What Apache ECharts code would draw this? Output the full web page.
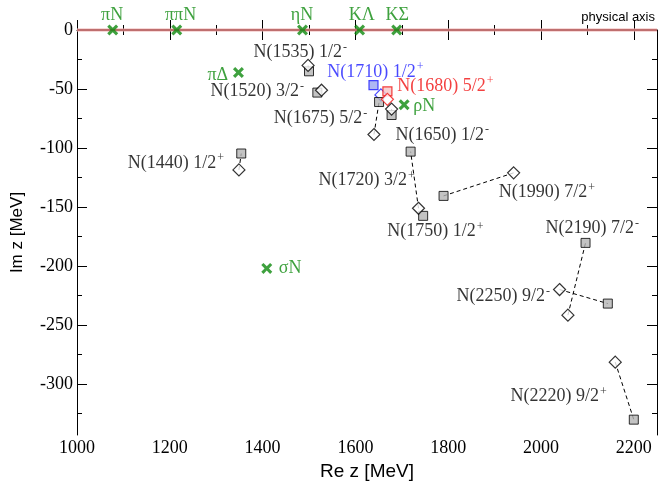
<!DOCTYPE html>
<html><head><meta charset="utf-8">
<script src="https://cdn.jsdelivr.net/npm/echarts@6/dist/echarts.min.js"></script>
<style>html,body{margin:0;padding:0;background:#fff}#c{width:670px;height:486px}</style>
</head><body><div id="c"></div>
<script>
// ---- data ----
const xMajor = [1000, 1200, 1400, 1600, 1800, 2000, 2200];
const xMinor = [1100, 1300, 1500, 1700, 1900, 2100];
const yMajor = [0, -50, -100, -150, -200, -250, -300];
const yMinor = [-25, -75, -125, -175, -225, -275, -325];

const resName   = ['N(1440)', 'N(1520)', 'N(1535)', 'N(1650)', 'N(1675)', 'N(1720)', 'N(1750)', 'N(1990)', 'N(2190)', 'N(2220)', 'N(2250)'];
const diamondRe = [1349, 1527, 1498, 1640, 1678, 1736, null, 1941, 2058, 2160, 2040];
const diamondIm = [-118.5, -51, -30, -88.5, -67, -151, null, -121, -241.5, -281.3, -219.8];
const squareRe  = [1354, 1518, 1500, 1651, 1678, 1719, 1746, 1790, 2096, 2200, 2144];
const squareIm  = [-104.6, -53, -35, -61, -72, -103, -157.4, -140.5, -180.3, -330, -231.7];

const n1710Re = [1655, 1639];   // diamond, square
const n1710Im = [-55, -46.7];
const n1680Re = [1669, 1669];
const n1680Im = [-58.7, -52];

const chanName = ['πN', 'ππN', 'ηN', 'KΛ', 'KΣ', 'πΔ', 'ρN', 'σN'];
const chanRe   = [1077, 1215, 1486, 1609, 1689, 1348, 1705, 1409];
const chanIm   = [0, 0, 0, 0, 0, -36, -63.3, -201.9];

const labelMain = ['N(1535) 1/2', 'N(1520) 3/2', 'N(1710) 1/2', 'N(1680) 5/2', 'N(1675) 5/2', 'N(1650) 1/2', 'N(1440) 1/2', 'N(1720) 3/2', 'N(1990) 7/2', 'N(1750) 1/2', 'N(2190) 7/2', 'N(2250) 9/2', 'N(2220) 9/2',
                   'πN', 'ππN', 'ηN', 'KΛ', 'KΣ', 'πΔ', 'ρN', 'σN'];
const labelSup  = ['-', '-', '+', '+', '-', '-', '+', '+', '+', '+', '-', '-', '+', '', '', '', '', '', '', '', ''];
const labelKind = ['k', 'k', 'b', 'r', 'k', 'k', 'k', 'k', 'k', 'k', 'k', 'k', 'k', 'g', 'g', 'g', 'g', 'g', 'g', 'g', 'g'];
const labelRe   = [1379.3, 1286.6, 1538.1, 1689, 1423, 1685.3, 1108.4, 1519.4, 1908, 1667.5, 2008.6, 1816.8, 1933.2,
                   1050.9, 1188.6, 1459.7, 1584.7, 1663.8, 1280.2, 1723.5, 1433.8];
const labelIm   = [-19.2, -52.1, -35.4, -47.5, -75, -89.2, -112.5, -127.5, -137.8, -170.8, -168.1, -225.8, -310.4,
                   12.1, 12.1, 12.1, 12.1, 12.1, -38.3, -65, -201.4];

const physAxis = [[1000, 0], [2250, 0]];

// ---- styles ----
const SERIF = 'Liberation Serif';
const SANS = 'Liberation Sans';
const GREEN = '#0e8a0e';
const BLUE = '#1a1aff';
const RED = '#f01010';
const kindColor = { k: '#000', b: BLUE, r: RED, g: GREEN };
const CROSS = 'path://M0,2L2,0L5,3L8,0L10,2L7,5L10,8L8,10L5,7L2,10L0,8L3,5Z';

const series = [];
// physical axis line
series.push({ type: 'line', data: physAxis, symbol: 'none', clip: false, silent: true, z: 1,
  lineStyle: { color: '#f0b4b4', width: 3 } });
series.push({ type: 'line', data: physAxis, symbol: 'none', clip: false, silent: true, z: 1,
  lineStyle: { color: '#8e2a2a', width: 1 } });

// dashed connectors
for (let i = 0; i < resName.length; i++) {
  if (diamondRe[i] == null) continue;
  series.push({ type: 'line', silent: true, symbol: 'none', z: 2,
    data: [[diamondRe[i], diamondIm[i]], [squareRe[i], squareIm[i]]],
    lineStyle: { color: '#000', width: 1, type: [4, 3] } });
}
// blue N(1710)
series.push({ type: 'scatter', symbol: 'diamond', symbolSize: 12, z: 3, silent: true,
  data: [[n1710Re[0], n1710Im[0]]],
  itemStyle: { color: '#fff', borderColor: BLUE, borderWidth: 1.2 } });
series.push({ type: 'scatter', symbol: 'rect', symbolSize: 9, z: 3, silent: true,
  data: [[n1710Re[1], n1710Im[1]]],
  itemStyle: { color: '#9aa6f0', borderColor: BLUE, borderWidth: 1.2 } });
// gray squares
series.push({ type: 'scatter', symbol: 'rect', symbolSize: 9, z: 4, silent: true,
  data: squareRe.map((v, i) => [v, squareIm[i]]),
  itemStyle: { color: '#b4b4b4', borderColor: '#000', borderWidth: 1 } });
// red N(1680)
series.push({ type: 'scatter', symbol: 'rect', symbolSize: 9, z: 5, silent: true,
  data: [[n1680Re[1], n1680Im[1]]],
  itemStyle: { color: '#f6c4c4', borderColor: RED, borderWidth: 1.2 } });
series.push({ type: 'scatter', symbol: 'diamond', symbolSize: 12, z: 5, silent: true,
  data: [[n1680Re[0], n1680Im[0]]],
  itemStyle: { color: '#fff', borderColor: RED, borderWidth: 1.2 } });
// black diamonds
series.push({ type: 'scatter', symbol: 'diamond', symbolSize: 12, z: 6, silent: true,
  data: diamondRe.map((v, i) => v == null ? null : [v, diamondIm[i]]).filter(d => d),
  itemStyle: { color: '#fff', borderColor: '#000', borderWidth: 1.2 } });
// channel crosses
series.push({ type: 'scatter', symbol: CROSS, symbolSize: 11, z: 7, clip: false, silent: true,
  data: chanRe.map((v, i) => [v, chanIm[i]]),
  itemStyle: { color: GREEN } });
// labels
series.push({ type: 'scatter', symbolSize: 1, z: 8, clip: false, silent: true,
  itemStyle: { color: 'rgba(0,0,0,0)' },
  data: labelMain.map((t, i) => {
    const c = kindColor[labelKind[i]];
    return {
      value: [labelRe[i], labelIm[i]],
      label: {
        show: true, position: 'right', distance: 0, color: c,
        formatter: labelSup[i] ? '{m|' + t + '}{s|' + labelSup[i] + '}' : '{m|' + t + '}',
        rich: {
          m: { fontFamily: SERIF, fontSize: 18, color: c, lineHeight: 22, verticalAlign: 'middle' },
          s: { fontFamily: SERIF, fontSize: 12, color: c, lineHeight: 10, verticalAlign: 'top', padding: [0, 0, 0, 1] }
        }
      }
    };
  })
});

const tickFont = { fontFamily: SERIF, fontSize: 18, color: '#000' };
const lineBlack = { show: true, lineStyle: { color: '#000', width: 1 } };
function xAx(pos, major, vals, withLabel) {
  return {
    type: 'value', min: 1000, max: 2250, position: pos,
    axisLine: pos === 'bottom' && major ? lineBlack : { show: false },
    axisTick: { show: true, inside: true, length: major ? 10 : 5, customValues: vals, lineStyle: { color: '#000' } },
    axisLabel: withLabel ? Object.assign({ show: true, customValues: vals, margin: 4, formatter: v => String(v) }, tickFont) : { show: false },
    splitLine: { show: false }
  };
}
function yAx(pos, major, vals, withLabel) {
  return {
    type: 'value', min: -343, max: 0, position: pos,
    axisLine: major ? lineBlack : { show: false },
    axisTick: { show: true, inside: true, length: major ? 10 : 5, customValues: vals, lineStyle: { color: '#000' } },
    axisLabel: withLabel ? Object.assign({ show: true, customValues: vals, margin: 4, formatter: v => String(v) }, tickFont) : { show: false },
    splitLine: { show: false }
  };
}

const xAxes = [xAx('bottom', true, xMajor, true), xAx('bottom', false, xMinor, false), xAx('top', true, xMajor, false), xAx('top', false, xMinor, false)];
Object.assign(xAxes[0], { name: 'Re z [MeV]', nameLocation: 'middle', nameGap: 27,
  nameTextStyle: { fontFamily: SANS, fontSize: 19, color: '#000' } });
const yAxes = [yAx('left', true, yMajor, true), yAx('left', false, yMinor, false), yAx('right', true, yMajor, false), yAx('right', false, yMinor, false)];
Object.assign(yAxes[0], { name: 'Im z [MeV]', nameLocation: 'middle', nameGap: 51,
  nameTextStyle: { fontFamily: SANS, fontSize: 17, color: '#000' } });

const chart = echarts.init(document.getElementById('c'), null, { renderer: 'canvas' });
chart.setOption({
  animation: false,
  backgroundColor: '#fff',
  grid: { left: 77, right: 13, top: 30, bottom: 44, containLabel: false },
  xAxis: xAxes,
  yAxis: yAxes,
  graphic: [{ type: 'text', right: 15, top: 11,
    style: { text: 'physical axis', fontFamily: SANS, fontSize: 13, fill: '#000' } }],
  series: series
});
</script></body></html>
